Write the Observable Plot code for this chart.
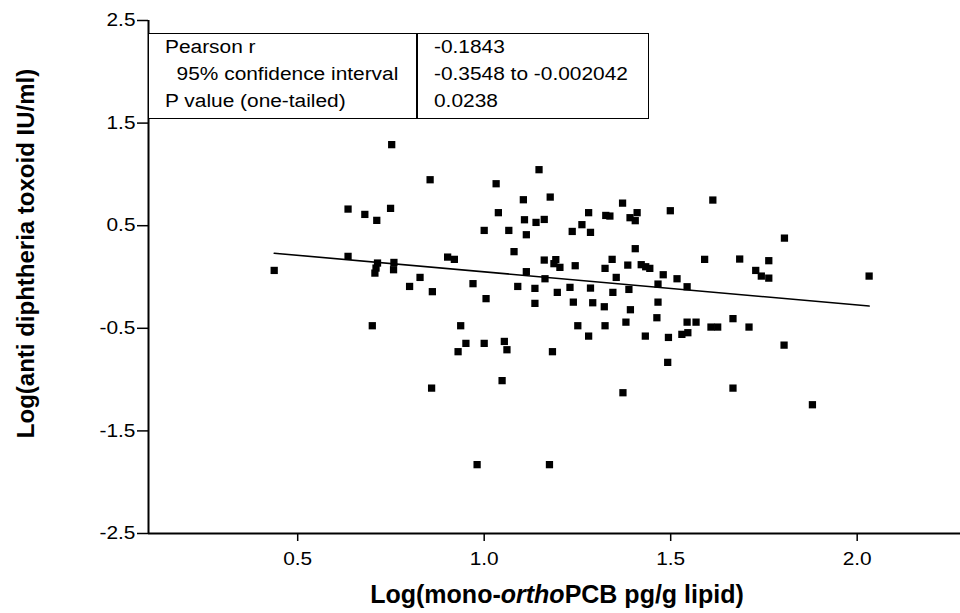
<!DOCTYPE html>
<html>
<head>
<meta charset="utf-8">
<script src="https://cdn.jsdelivr.net/npm/d3@7"></script>
<script src="https://cdn.jsdelivr.net/npm/@observablehq/plot@0.6"></script>
<style>
  html, body { margin: 0; padding: 0; background: #fff; }
  #wrap { position: relative; width: 960px; height: 613px; font-family: "Liberation Sans", Arial, sans-serif; color: #000; }
  #wrap svg { display: block; }
  #stats { position: absolute; left: 147.5px; top: 32.5px; width: 501.5px; height: 86.5px;
           border: 1.5px solid #000; box-sizing: border-box; display: flex;
           font-size: 18px; line-height: 27.2px; background: #fff; }
  #stats .c1 { width: 269px; border-right: 2px solid #000; box-sizing: border-box; padding-left: 16px; white-space: pre; }
  #stats .c2 { padding-left: 16px; white-space: pre; }
  #stats span { display: inline-block; transform: scaleX(1.16); transform-origin: 0 50%; }
</style>
</head>
<body>
<div id="wrap"></div>
<script>
// ---- data ----
const xs = [
  0.752, 0.855, 1.032, 1.147, 1.177, 1.105, 0.635, 0.749, 0.680, 0.712,
  1.038, 1.108, 1.139, 1.161, 1.000, 1.066, 1.113, 1.080, 0.437, 0.635,
  0.714, 0.710, 0.707, 0.758, 0.757, 0.902, 0.920, 0.828, 0.800, 0.861,
  0.970, 1.005, 1.090, 1.113, 1.136, 1.136, 1.161, 1.163, 1.192, 1.187,
  1.203, 1.196, 0.700, 0.937,
  1.371, 1.280, 1.326, 1.337, 1.391, 1.410, 1.405, 1.499, 1.613, 1.262,
  1.236, 1.285, 1.405, 1.805, 1.244, 1.343, 1.324, 1.385, 1.421, 1.433,
  1.444, 1.354, 1.480, 1.517, 1.466, 1.544, 1.591, 1.685, 1.763, 1.728,
  1.743, 1.763, 2.032, 1.230, 1.285, 1.345, 1.388, 1.239, 1.291, 1.322,
  1.392, 1.466, 1.251, 1.324, 1.380, 1.463, 1.544, 1.568, 1.667, 1.608,
  1.626, 1.710, 1.280, 1.432, 1.494, 1.530, 1.546,
  1.183, 1.804, 1.492, 1.372, 1.667, 1.880, 1.175,
  0.951, 1.000, 0.930, 1.054, 1.061, 0.859, 1.048, 0.981
];
const ys = [
  1.290, 0.948, 0.909, 1.046, 0.779, 0.753, 0.662, 0.669, 0.610, 0.552,
  0.627, 0.558, 0.532, 0.561, 0.454, 0.454, 0.412, 0.247, 0.064, 0.201,
  0.136, 0.087, 0.038, 0.142, 0.071, 0.194, 0.172, -0.004, -0.092, -0.143,
  -0.065, -0.211, -0.092, 0.052, -0.111, -0.257, 0.165, -0.017, 0.169, 0.130,
  0.094, -0.150, -0.475, -0.475,
  0.720, 0.627, 0.600, 0.594, 0.578, 0.627, 0.549, 0.646, 0.750, 0.510,
  0.444, 0.435, 0.276, 0.379, 0.110, 0.172, 0.084, 0.116, 0.120, 0.100,
  0.084, -0.004, 0.022, -0.017, -0.069, -0.095, 0.172, 0.175, 0.159, 0.064,
  0.009, -0.011, 0.009, -0.101, -0.108, -0.150, -0.121, -0.245, -0.251, -0.290,
  -0.319, -0.245, -0.475, -0.475, -0.440, -0.397, -0.440, -0.440, -0.406, -0.488,
  -0.488, -0.488, -0.576, -0.576, -0.589, -0.559, -0.543,
  -0.728, -0.664, -0.832, -1.128, -1.083, -1.245, -1.829,
  -0.647, -0.647, -0.728, -0.628, -0.709, -1.083, -1.010, -1.829
];
// linear fit
const fitIntercept = 0.3727;
const fitSlope = -0.3228;

const xTicks = [0.5, 1.0, 1.5, 2.0];
const yTicks = [2.5, 1.5, 0.5, -0.5, -1.5, -2.5];
const xDomain = [0.1, 2.277];
const yDomain = [-2.5, 2.5];

const statLabels = ["Pearson r", "  95% confidence interval", "P value (one-tailed)"];
const statValues = ["-0.1843", "-0.3548 to -0.002042", "0.0238"];

const xTitleParts = [["Log(mono-", "normal"], ["ortho", "italic"], ["PCB pg/g lipid)", "normal"]];
const yTitle = "Log(anti diphtheria toxoid IU/ml)";

// ---- build ----
const points = xs.map((x, i) => ({x, y: ys[i]}));
const fitLine = d3.extent(xs).map(x => ({x, y: fitIntercept + fitSlope * x}));
const fmt = d => d.toFixed(1);

const chart = Plot.plot({
  width: 960,
  height: 613,
  marginLeft: 148,
  marginRight: 0,
  marginTop: 20,
  marginBottom: 80,
  style: {fontFamily: "'Liberation Sans', Arial, sans-serif", fontSize: "18px", color: "#000", background: "#fff", overflow: "visible"},
  x: {domain: xDomain},
  y: {domain: yDomain},
  marks: [
    Plot.axisX(xTicks, {tickSize: 8, tickPadding: 11, tickFormat: fmt, strokeWidth: 1.5, fontSize: 18, label: null}),
    Plot.axisY(yTicks, {tickSize: 11, tickPadding: 2, tickFormat: fmt, strokeWidth: 1.5, fontSize: 18, label: null}),
    Plot.ruleX([xDomain[0]], {stroke: "#000", strokeWidth: 2}),
    Plot.ruleY([yDomain[0]], {stroke: "#000", strokeWidth: 2}),
    Plot.line(fitLine, {x: "x", y: "y", stroke: "#000", strokeWidth: 1.6}),
    Plot.dot(points, {x: "x", y: "y", symbol: "square", r: 4.1, fill: "#000"})
  ]
});

const svg = d3.select(chart);
const xt = svg.append("text")
  .attr("x", 557).attr("y", 603)
  .attr("text-anchor", "middle")
  .attr("font-size", 25).attr("font-weight", "bold").attr("fill", "#000");
xTitleParts.forEach(([t, s]) => xt.append("tspan").attr("font-style", s).text(t));

svg.append("text")
  .attr("transform", "translate(34,253.5) rotate(-90)")
  .attr("text-anchor", "middle")
  .attr("font-size", 24).attr("font-weight", "bold").attr("fill", "#000")
  .text(yTitle);

const wrap = document.getElementById("wrap");
wrap.appendChild(chart);

// widen the tick labels slightly, as in the reference rendering
svg.selectAll("g[aria-label$='tick label'] text").each(function () {
  const w = this.getComputedTextLength();
  if (w > 0) {
    this.setAttribute("textLength", (w * 1.16).toFixed(1));
    this.setAttribute("lengthAdjust", "spacingAndGlyphs");
  }
});

const stats = d3.select(wrap).append("div").attr("id", "stats");
const c1 = stats.append("div").attr("class", "c1");
const c2 = stats.append("div").attr("class", "c2");
statLabels.forEach(t => c1.append("div").append("span").text(t));
statValues.forEach(t => c2.append("div").append("span").text(t));
</script>
</body>
</html>
